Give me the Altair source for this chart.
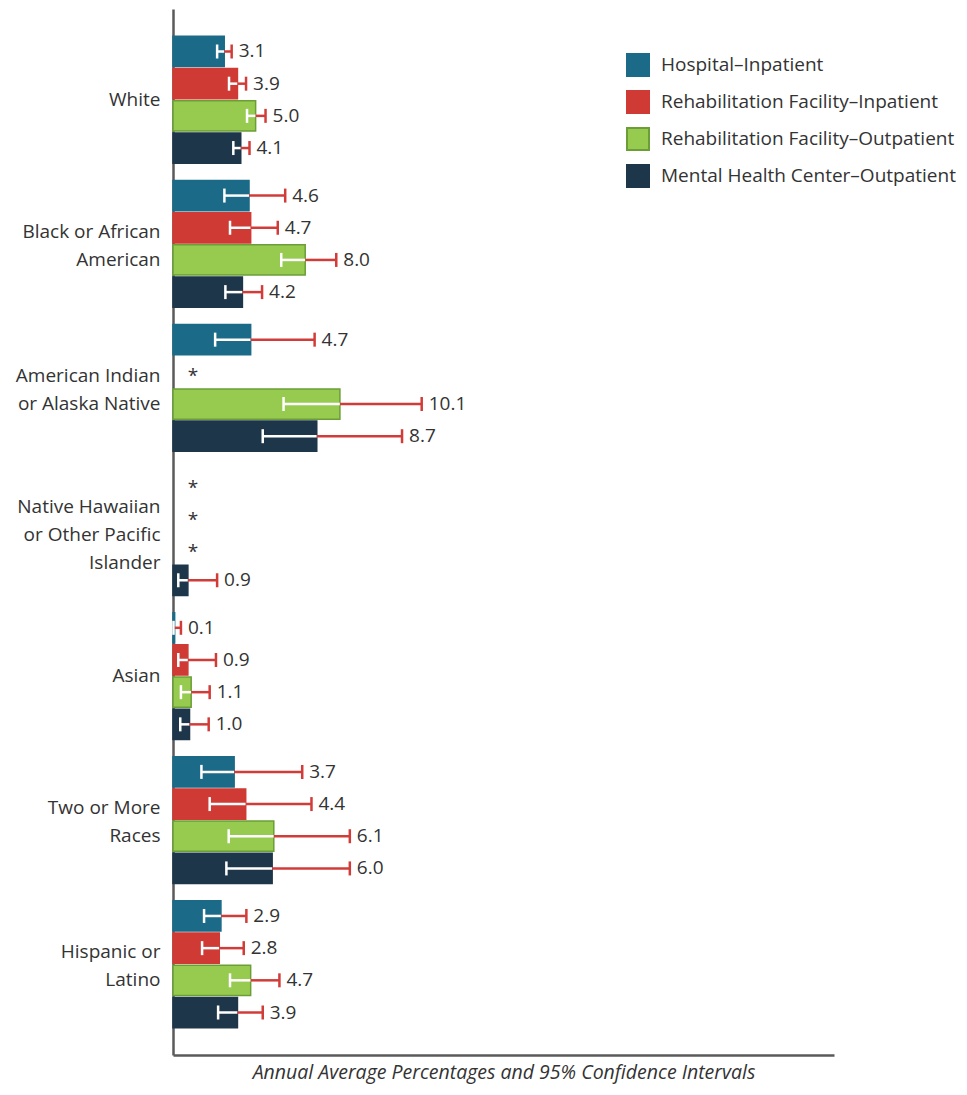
import altair as alt
import pandas as pd

categories = ["White", "Black or African|American", "American Indian|or Alaska Native",
              "Native Hawaiian|or Other Pacific|Islander", "Asian", "Two or More|Races",
              "Hispanic or|Latino"]
series = ["Hospital–Inpatient", "Rehabilitation Facility–Inpatient",
          "Rehabilitation Facility–Outpatient", "Mental Health Center–Outpatient"]
colors = ["#1b6a87", "#cf3a35", "#97cb50", "#1e364a"]
strokes = ["#1b6a87", "#cf3a35", "#6c9e37", "#1e364a"]

hospital = [3.1, 4.6, 4.7, None, 0.1, 3.7, 2.9]
hospital_lo = [2.67, 3.11, 2.55, None, 0.03, 1.72, 1.88]
hospital_hi = [3.55, 6.79, 8.57, None, 0.48, 7.82, 4.44]

rehab_in = [3.9, 4.7, None, None, 0.9, 4.4, 2.8]
rehab_in_lo = [3.39, 3.45, None, None, 0.32, 2.22, 1.76]
rehab_in_hi = [4.42, 6.34, None, None, 2.6, 8.38, 4.28]

rehab_out = [5.0, 8.0, 10.1, None, 1.1, 6.1, 4.7]
rehab_out_lo = [4.48, 6.55, 6.69, None, 0.48, 3.37, 3.45]
rehab_out_hi = [5.6, 9.88, 15.05, None, 2.22, 10.7, 6.44]

mental = [4.1, 4.2, 8.7, 0.9, 1.0, 6.0, 3.9]
mental_lo = [3.65, 3.17, 5.43, 0.32, 0.44, 3.23, 2.73]
mental_hi = [4.63, 5.39, 13.86, 2.67, 2.16, 10.7, 5.43]

vals = [hospital, rehab_in, rehab_out, mental]
los = [hospital_lo, rehab_in_lo, rehab_out_lo, mental_lo]
his = [hospital_hi, rehab_in_hi, rehab_out_hi, mental_hi]

rows = []
for s, v, lo, hi in zip(series, vals, los, his):
    for c, a, b, d in zip(categories, v, lo, hi):
        rows.append({"category": c, "series": s, "value": a, "lo": b, "hi": d,
                     "label": (f"{a:.1f}" if a is not None else None)})
df = pd.DataFrame(rows)

FONT = "Open Sans"
TXT = "#333333"

label_shift = {
    "condition": [
        {"test": "length(split(datum.label, '|')) == 3", "value": -25},
        {"test": "length(split(datum.label, '|')) == 2", "value": -12},
    ],
    "value": 0,
}

ycat = alt.Y("category:N", sort=categories,
             scale=alt.Scale(paddingInner=0.12, paddingOuter=0.19),
             axis=alt.Axis(title=None, ticks=False, domainColor="#5a5a5a", domainWidth=2.5,
                           labelFontSize=19, labelColor=TXT, labelFont=FONT, labelPadding=13,
                           labelLineHeight=28, labelLimit=300, minExtent=150, maxExtent=150,
                           labelOffset=label_shift,
                           labelExpr="split(datum.label, '|')"))
yoff = alt.YOffset("series:N", sort=series, scale=alt.Scale(paddingInner=0.06, paddingOuter=0))

base = alt.Chart(df).encode(y=ycat, yOffset=yoff)
valid = base.transform_filter("isValid(datum.value)")

xenc = alt.X("value:Q", scale=alt.Scale(domain=[0, 40], nice=False),
             axis=alt.Axis(title="Annual Average Percentages and 95% Confidence Intervals",
                           labels=False, ticks=False, grid=False, domainColor="#5a5a5a",
                           domainWidth=2.5, titleFontStyle="italic", titleFontWeight="normal",
                           titleFontSize=19.5, titleColor=TXT, titleFont=FONT, titlePadding=8))

leg = alt.Legend(title=None, orient="none", legendX=453, legendY=44, symbolType="square",
                 symbolSize=484, symbolStrokeWidth=2, labelFontSize=19, labelFont=FONT,
                 labelColor=TXT, rowPadding=7, labelOffset=11, padding=0, labelLimit=400)

bars = valid.mark_bar(strokeWidth=1.5).encode(
    x=xenc,
    fill=alt.Fill("series:N", sort=series, scale=alt.Scale(domain=series, range=colors), legend=leg),
    stroke=alt.Stroke("series:N", sort=series, scale=alt.Scale(domain=series, range=strokes), legend=leg),
)

white_rule = valid.mark_rule(color="white", strokeWidth=2.5).encode(x="lo:Q", x2="value:Q")
white_cap = valid.mark_tick(color="white", thickness=2.5, size=14, opacity=1).encode(x="lo:Q")
red_rule = valid.mark_rule(color="#d23c38", strokeWidth=2.5).encode(x="value:Q", x2="hi:Q")
red_cap = valid.mark_tick(color="#d23c38", thickness=2.5, size=14, opacity=1).encode(x="hi:Q")
labels = valid.mark_text(align="left", baseline="middle", dx=7, fontSize=19, font=FONT,
                         color=TXT).encode(x="hi:Q", text="label:N")
stars = base.transform_filter("!isValid(datum.value)").mark_text(
    text="*", fontSize=19, font=FONT, color=TXT, align="center", baseline="middle", dy=4
).encode(x=alt.value(20))

chart = alt.layer(bars, white_rule, white_cap, red_rule, red_cap, labels, stars).properties(
    width=661, height=1046,
    padding={"left": 7, "top": 1, "right": 0, "bottom": 5},
).configure(font=FONT).configure_view(stroke=None)

chart.save("out.html", embed_options={"renderer": "svg", "actions": False})
